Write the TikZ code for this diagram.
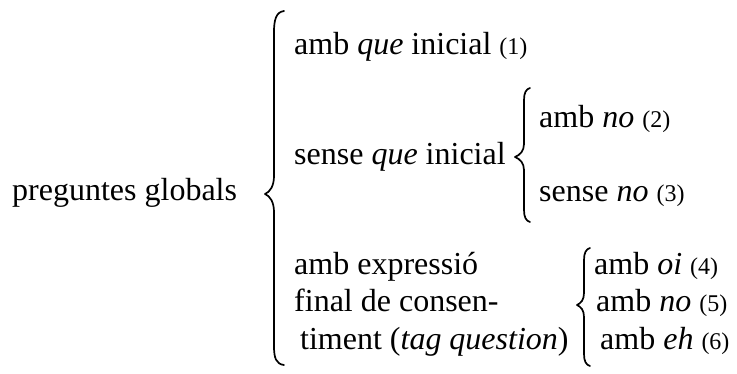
\documentclass[tikz,border=0pt]{standalone}
\usepackage{graphicx}
\usepackage{fontspec}
\newfontfamily\tnr{Liberation Serif}[Ligatures={NoCommon,TeX}]
\newcommand{\sm}[1]{\scalebox{0.75}{#1}}
\begin{document}
\begin{tikzpicture}[x=1pt,y=-1pt,
  lbl/.style={anchor=base west,inner sep=0pt,font=\tnr\fontsize{32pt}{38pt}\selectfont},
  brc/.style={line width=1.7pt,line cap=round,line join=round}]
\useasboundingbox[fill=white] (0,0) rectangle (737,374);
\node[lbl] (root) at (12,201) {preguntes globals};
\node[lbl] (a1) at (294,55) {amb \textit{que} inicial \sm{(1)}};
\node[lbl] (a2) at (294,165) {sense \textit{que} inicial};
\node[lbl] (b1) at (539,128) {amb \textit{no} \sm{(2)}};
\node[lbl] (b2) at (539,202) {sense \textit{no} \sm{(3)}};
\node[lbl] (c1) at (294,275) {amb expressió};
\node[lbl] (c2) at (294,312) {final de consen-};
\node[lbl] (c3) at (300,349) {timent (\textit{tag question})};
\node[lbl] (d1) at (594,275) {amb \textit{oi} \sm{(4)}};
\node[lbl] (d2) at (596,312) {amb \textit{no} \sm{(5)}};
\node[lbl] (d3) at (600,349) {amb \textit{eh} \sm{(6)}};
% big brace
\draw[brc] (284,11) .. controls (276,12) and (274,20) .. (274,32)
  -- (274,176) .. controls (274,186) and (270,192) .. (265,194)
  .. controls (270,196) and (274,202) .. (274,212)
  -- (274,346) .. controls (274,358) and (276,364) .. (284,365);
% brace 2
\draw[brc] (530,88) .. controls (526,89) and (524,93) .. (524,100)
  -- (524,144) .. controls (524,151) and (520,155) .. (515,157)
  .. controls (520,159) and (524,163) .. (524,170)
  -- (524,210) .. controls (524,217) and (526,221) .. (530,222);
% brace 3
\draw[brc] (590,248) .. controls (586,249) and (584,253) .. (584,260)
  -- (584,293) .. controls (584,300) and (581,303) .. (577,305)
  .. controls (581,307) and (584,310) .. (584,317)
  -- (584,354) .. controls (584,361) and (586,365) .. (590,366);
\end{tikzpicture}
\end{document}
